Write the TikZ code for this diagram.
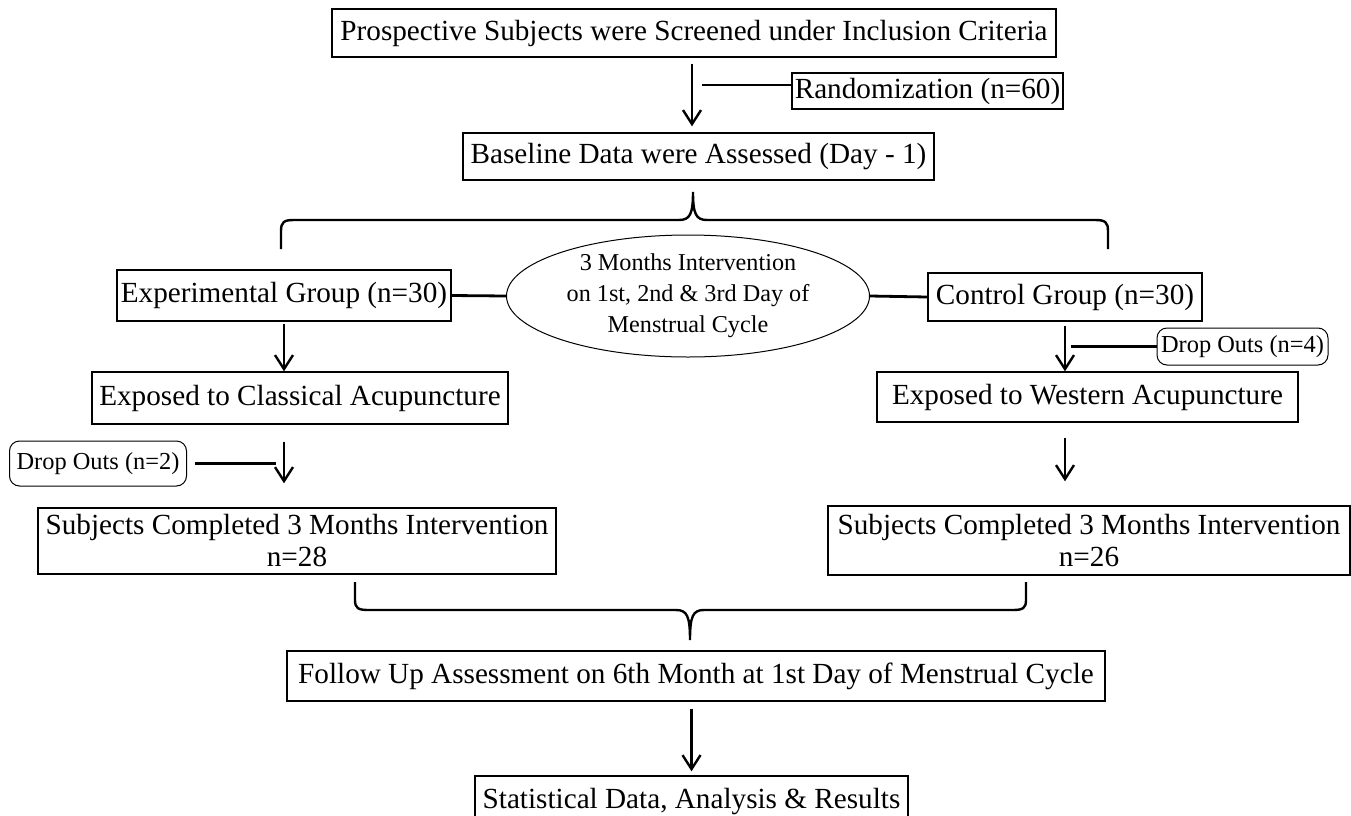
\documentclass[tikz,border=0pt]{standalone}
\usepackage{fontspec}
\setmainfont{Liberation Serif}
\usepackage{tikz}
\usetikzlibrary{arrows.meta,shapes,positioning}
\tikzstyle{box} = [draw, line width=0.7pt, inner sep=0pt, align=center, font=\fontsize{14.6}{16}\selectfont]
\tikzstyle{dropbox} = [draw, line width=0.5pt, rounded corners=5pt, inner sep=0pt, font=\fontsize{12.2}{14}\selectfont]
\tikzstyle{arrow} = [line width=1.2pt,-{Straight Barb[length=7pt,width=9pt]}]
\tikzstyle{link} = [line width=1.4pt]
\tikzstyle{brace} = [line width=1.2pt]

\begin{document}
\begin{tikzpicture}[x=0.5pt, y=-0.5pt]
\useasboundingbox (0,0) rectangle (1351,815);

% Screening and randomization
\node[box, minimum width=362pt, minimum height=24pt] (screen) at (694,33) {Prospective Subjects were Screened under Inclusion Criteria};
\node[box, minimum width=135.5pt, minimum height=18pt] (random) at (927.5,91) {Randomization (n=60)};
\node[box, minimum width=235.5pt, minimum height=23.5pt] (baseline) at (698.5,156.5) {Baseline Data were Assessed (Day - 1)};
\coordinate (axis) at (692,0);

% Groups
\node[box, minimum width=167pt, minimum height=25.5pt] (expgroup) at (284,295.5) {Experimental Group (n=30)};
\node[draw, ellipse, line width=0.5pt, inner sep=0pt, minimum width=181.5pt, minimum height=61pt, align=center, font=\fontsize{12.1}{15.5}\selectfont] (interv) at (688,296) {3 Months Intervention\\on 1st, 2nd \& 3rd Day of\\Menstrual Cycle};
\node[box, minimum width=137pt, minimum height=24pt] (ctrlgroup) at (1065,297) {Control Group (n=30)};

% Acupuncture
\node[box, minimum width=208pt, minimum height=26pt] (classical) at (300,398) {Exposed to Classical Acupuncture};
\node[box, minimum width=210.5pt, minimum height=25pt] (western) at (1087.5,397) {Exposed to Western Acupuncture};
\node[dropbox, minimum width=85.5pt, minimum height=18.5pt] (dropctrl) at (1242.5,346.5) {Drop Outs (n=4)};
\node[dropbox, minimum width=88.5pt, minimum height=22.5pt] (dropexp) at (98,463.5) {Drop Outs (n=2)};

% Completion
\node[box, minimum width=259pt, minimum height=33pt] (doneexp) at (297,541) {Subjects Completed 3 Months Intervention\\n=28};
\node[box, minimum width=261pt, minimum height=34.5pt] (donectrl) at (1089,540.5) {Subjects Completed 3 Months Intervention\\n=26};

% Follow up
\node[box, minimum width=409pt, minimum height=25pt] (followup) at (696,676) {Follow Up Assessment on 6th Month at 1st Day of Menstrual Cycle};
\node[box, minimum width=216.5pt, minimum height=26pt] (results) at (691.5,802) {Statistical Data, Analysis \& Results};

% Connections
\draw[arrow, shorten <=3pt, shorten >=3pt] (screen.south -| axis) -- (baseline.north -| axis);
\draw[link, shorten >=5pt] ([yshift=3pt]random.west) -- ([yshift=3pt]random.west -| axis);

\draw[link] (expgroup.east) -- (interv.west);
\draw[link] (interv.east) -- (ctrlgroup.west);

\draw[arrow, shorten <=1pt] (expgroup.south) -- (expgroup.south |- classical.north);
\draw[arrow, shorten <=2pt] (ctrlgroup.south) -- (ctrlgroup.south |- western.north);
\draw[link, shorten >=3pt] (dropctrl.west) -- (dropctrl.west -| ctrlgroup.south);

\draw[arrow, shorten <=8.5pt, shorten >=12pt] (classical.south -| expgroup.south) -- (doneexp.north -| expgroup.south);
\draw[link, shorten <=4pt, shorten >=4pt] (dropexp.east) -- (dropexp.east -| expgroup.south);
\draw[arrow, shorten <=7.5pt, shorten >=12pt] (western.south -| ctrlgroup.south) -- (donectrl.north -| ctrlgroup.south);

\draw[arrow, shorten <=3.5pt, shorten >=2pt] (followup.south -| results.north) -- (results.north);

% Braces
\draw[brace] (281,249) -- (281,231) .. controls (281,222) and (284,220) .. (294,220) -- (679,220) .. controls (690,220) and (693,214) .. (693,192) .. controls (693,214) and (696,220) .. (707,220) -- (1095,220) .. controls (1105,220) and (1108,222) .. (1108,231) -- (1108,249);
\draw[brace] (355,582) -- (355,600) .. controls (355,608) and (358,610) .. (368,610) -- (676,610) .. controls (687,610) and (690,616) .. (690,640) .. controls (690,616) and (693,610) .. (704,610) -- (1013,610) .. controls (1023,610) and (1026,608) .. (1026,600) -- (1026,582);
\end{tikzpicture}
\end{document}
